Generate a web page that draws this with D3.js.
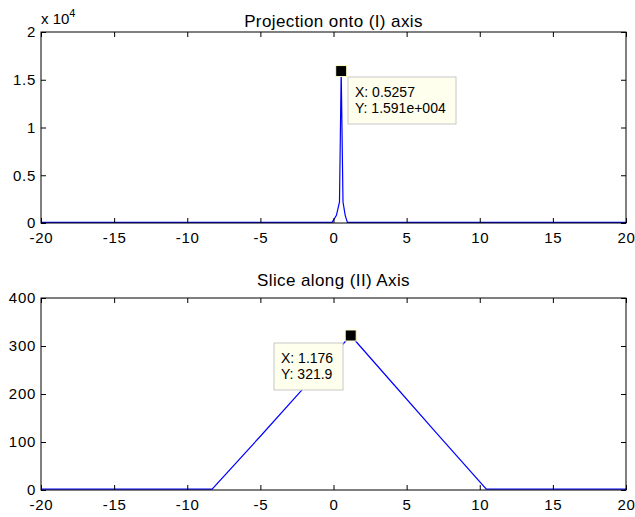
<!DOCTYPE html>
<meta charset="utf-8">
<style>
body { margin: 0; background: #fff; }
svg { font-family: "Liberation Sans", Arial, sans-serif; }
.tick text { font-size: 15px; fill: #000; letter-spacing: 0.7px; }
.tick line { stroke: #000; }
.title { font-size: 17px; letter-spacing: 0.4px; }
.tip text { font-size: 14px; }
</style>
<body>
<script src="https://d3js.org/d3.v7.min.js"></script>
<script>

// top panel: projection onto (I) axis
var projX = [-20, -0.1, 0.2, 0.41, 0.5257, 0.65, 0.8, 0.95, 20];
var projY = [60, 60, 800, 2200, 15910, 2200, 800, 60, 60];
var projYTicks = [0, 5000, 10000, 15000, 20000];
var projTip = {x: 0.5257, y: 15910, lines: ["X: 0.5257", "Y: 1.591e+004"]};

// bottom panel: slice along (II) axis
var sliceX = [-20, -8.3, -5, -2, 1.176, 4, 7, 10.45, 20];
var sliceY = [2, 2, 112, 214, 321.9, 224, 120, 2, 2];
var sliceYTicks = [0, 100, 200, 300, 400];
var sliceTip = {x: 1.176, y: 321.9, lines: ["X: 1.176", "Y: 321.9"]};

var xTicks = [-20, -15, -10, -5, 0, 5, 10, 15, 20];

var width = 635, height = 517;
var svg = d3.select("body").append("svg")
    .attr("width", width)
    .attr("height", height);

var left = 41, right = 626;

function plain(d) { return String(d); }  // hyphen minus, like matlab

function panel(top, bottom, xs, ys, yTicks, yDomain, yFmt, title, titleY, tip, tipBox) {
    var x = d3.scaleLinear().domain([-20, 20]).range([left, right]);
    var y = d3.scaleLinear().domain(yDomain).range([bottom, top]);
    var g = svg.append("g");

    var line = d3.line()
        .x(function(d) { return x(d[0]); })
        .y(function(d) { return y(d[1]); });

    g.append("path")
        .datum(d3.zip(xs, ys))
        .attr("fill", "none")
        .attr("stroke", "#0000ff")
        .attr("stroke-width", 1.2)
        .attr("d", line);

    g.append("g")
        .attr("transform", "translate(0," + bottom + ")")
        .call(d3.axisBottom(x).tickValues(xTicks).tickSize(-5).tickPadding(9).tickFormat(plain));
    g.append("g")
        .attr("transform", "translate(0," + top + ")")
        .call(d3.axisTop(x).tickValues(xTicks).tickSize(-5).tickFormat(""));
    g.append("g")
        .attr("transform", "translate(" + left + ",0)")
        .call(d3.axisLeft(y).tickValues(yTicks).tickSize(-5).tickPadding(5).tickFormat(yFmt));
    g.append("g")
        .attr("transform", "translate(" + right + ",0)")
        .call(d3.axisRight(y).tickValues(yTicks).tickSize(-5).tickFormat(""));
    g.selectAll(".domain").remove();

    g.append("rect")
        .attr("x", left).attr("y", top)
        .attr("width", right - left).attr("height", bottom - top)
        .attr("fill", "none").attr("stroke", "#000");

    g.append("text")
        .attr("class", "title")
        .attr("x", (left + right) / 2)
        .attr("y", titleY)
        .attr("text-anchor", "middle")
        .text(title);

    // data tip
    var t = g.append("g").attr("class", "tip");
    t.append("rect")
        .attr("x", tipBox[0]).attr("y", tipBox[1])
        .attr("width", tipBox[2]).attr("height", tipBox[3])
        .attr("fill", "#ffffee").attr("stroke", "#c8c8c8");
    t.selectAll("text")
        .data(tip.lines)
      .enter().append("text")
        .attr("x", tipBox[0] + 7)
        .attr("y", function(d, i) { return tipBox[1] + 20 + i * 16; })
        .text(function(d) { return d; });
    t.append("rect")
        .attr("x", x(tip.x) - 5.5).attr("y", y(tip.y) - 5.5)
        .attr("width", 11).attr("height", 11)
        .attr("fill", "#000").attr("stroke", "#ffffcc").attr("stroke-width", 1);
    return g;
}

panel(32, 223, projX, projY, projYTicks, [0, 20000],
    function(d) { return String(d / 10000); },
    "Projection onto (I) axis", 27, projTip, [348, 77, 108, 47]);

panel(298, 490, sliceX, sliceY, sliceYTicks, [0, 400], plain,
    "Slice along (II) Axis", 286, sliceTip, [274, 343, 69, 47]);

// exponent label for the top y axis
var ex = svg.append("text")
    .attr("x", 41).attr("y", 24)
    .style("font-size", "15px");
ex.append("tspan").text("x 10");
ex.append("tspan").attr("dy", -7).style("font-size", "11px").text("4");

</script>
